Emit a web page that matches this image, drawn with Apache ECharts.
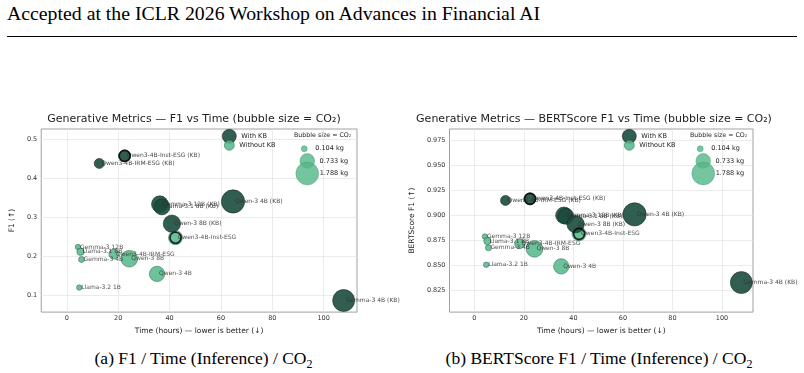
<!DOCTYPE html>
<html>
<head>
<meta charset="utf-8">
<script src="https://cdn.jsdelivr.net/npm/echarts@6/dist/echarts.min.js"></script>
<style>
  body { margin:0; width:804px; height:373px; background:#fff; position:relative; overflow:hidden; }
  #hdr { position:absolute; left:7px; top:3px; font-family:"Liberation Serif"; font-size:19.8px; line-height:20px; color:#000; white-space:nowrap; }
  #rule { position:absolute; left:7px; top:36px; width:790px; height:1px; background:#000; }
  .cap { position:absolute; top:349px; font-family:"Liberation Serif"; font-size:17.5px; line-height:18px; text-align:center; white-space:nowrap; color:#000; }
  .cap span { font-size:12px; position:relative; top:4px; }
  #chartA { position:absolute; left:0; top:100px; width:400px; height:240px; }
  #chartB { position:absolute; left:400px; top:100px; width:404px; height:240px; }
</style>
</head>
<body>
<div id="hdr">Accepted at the ICLR 2026 Workshop on Advances in Financial AI</div>
<div id="rule"></div>
<div id="chartA"></div>
<div id="chartB"></div>
<div class="cap" style="left:0;width:407px;">(a) F1 / Time (Inference) / CO<span>2</span></div>
<div class="cap" style="left:400px;width:398px;">(b) BERTScore F1 / Time (Inference) / CO<span>2</span></div>
<script>
    // runs without knowledge base
    const namesNoKB = ['Gemma-3 12B', 'Llama-3.1 8B', 'Gemma-3 4B', 'Qwen3-4B-IRM-ESG', 'Qwen-3 8B', 'Qwen-3 4B', 'Llama-3.2 1B', 'Qwen3-4B-Inst-ESG'];
    const timeNoKB  = [4.3, 5.3, 5.7, 18.3, 24.3, 35.1, 4.8, 42.3];
    const f1NoKB    = [0.223, 0.211, 0.191, 0.205, 0.193, 0.154, 0.119, 0.247];
    const bsNoKB    = [0.8786, 0.874, 0.8672, 0.8714, 0.8662, 0.8487, 0.8503, 0.8812];
    const co2NoKB   = [0.08, 0.17, 0.104, 0.33, 0.95, 0.8, 0.08, 0.66];

    // runs with knowledge base
    const namesKB = ['Qwen3-4B-Inst-ESG (KB)', 'Qwen3-4B-IRM-ESG (KB)', 'Gemma-3 12B (KB)', 'Llama-3.1 8B (KB)', 'Qwen-3 4B (KB)', 'Qwen-3 8B (KB)', 'Gemma-3 4B (KB)'];
    const timeKB  = [22.5, 12.6, 36.2, 37.0, 64.7, 40.9, 107.8];
    const f1KB    = [0.457, 0.4375, 0.333, 0.326, 0.340, 0.283, 0.0858];
    const bsKB    = [0.9162, 0.9146, 0.8997, 0.8987, 0.9007, 0.8909, 0.8325];
    const co2KB   = [0.48, 0.33, 0.95, 0.87, 1.87, 1.03, 1.67];

    const sizeKeys = [0.104, 0.733, 1.788];
    const xTicks = [0, 20, 40, 60, 80, 100];
    const f1Ticks = [0.1, 0.2, 0.3, 0.4, 0.5];
    const bsTicks = [0.825, 0.85, 0.875, 0.9, 0.925, 0.95, 0.975];

    const DARK = '#1b4d3e';
    const LIGHT = '#52b788';
    const FONT = 'DejaVu Sans';

    function bubble (co2) {
        return Math.sqrt(6.3 + 286 * co2);
    }

    function points (names, xs, ys, co2) {
        return names.map(function (n, i) { return { name: n, value: [xs[i], ys[i], co2[i]] }; });
    }

    const pointLabel = {
        show: true,
        formatter: '{b}',
        position: ['50%', '50%'],
        align: 'left',
        verticalAlign: 'middle',
        offset: [2, 0],
        fontSize: 6,
        color: '#333',
        fontFamily: FONT
    };

    function build (c) {
        const noKB = points(namesNoKB, timeNoKB, c.yNoKB, co2NoKB);
        const kb = points(namesKB, timeKB, c.yKB, co2KB);
        const rings = noKB.concat(kb).filter(function (d) { return d.name.indexOf('Inst-ESG') >= 0; });

        const legends = [
            { data: ['With KB'], left: c.lx - 7, top: 36 - 7, itemWidth: 14, itemHeight: 14,
              itemStyle: { borderWidth: 0.6, borderColor: '#12261e' } },
            { data: ['Without KB'], left: c.lx - 5, top: 45 - 5, itemWidth: 10, itemHeight: 10,
              itemStyle: { borderWidth: 0.6, borderColor: '#2d5e47' } }
        ];
        const sizeY = [48.3, 60.7, 73.3];
        sizeKeys.forEach(function (k, i) {
            const d = bubble(k);
            const w = Math.max(d, 12);
            legends.push({ data: [k + ' kg'], left: c.sx - w / 2, top: sizeY[i] - d / 2, itemWidth: w, itemHeight: d,
                itemStyle: { borderWidth: 0.5, borderColor: '#3e8f69' },
                textStyle: d > 20 ? { padding: [0, 0, 0, -4] } : {} });
        });
        legends.forEach(function (l) {
            l.icon = 'circle';
            l.padding = 0;
            l.orient = 'vertical';
            l.selectedMode = false;
            l.textStyle = Object.assign({ fontSize: 6.5, color: '#222', fontFamily: FONT }, l.textStyle || {});
        });

        const sizeSeries = sizeKeys.map(function (k) {
            return { type: 'scatter', name: k + ' kg', data: [], itemStyle: { color: LIGHT, borderColor: '#3e8f69', borderWidth: 0.5 } };
        });

        return {
            animation: false,
            textStyle: { fontFamily: FONT },
            grid: { left: c.grid[0], right: c.grid[1], top: c.grid[2], bottom: c.grid[3], show: true, borderColor: '#a0a0a0', borderWidth: 1 },
            graphic: [
                { type: 'text', x: c.tx, y: 19, style: { text: c.title, align: 'center', verticalAlign: 'middle', fontSize: 11, fontFamily: FONT, fill: '#222' } },
                { type: 'text', x: c.sx - 13, y: 35, style: { text: 'Bubble size = CO₂', align: 'left', verticalAlign: 'middle', fontSize: 6.3, fontFamily: FONT, fill: '#222' } }
            ],
            legend: legends,
            xAxis: {
                type: 'value', min: -10, max: c.xMax,
                name: 'Time (hours) — lower is better (↓)', nameLocation: 'middle', nameGap: 12.5,
                nameTextStyle: { fontSize: 7.5, color: '#222' },
                axisLine: { show: false },
                axisTick: { show: false, customValues: xTicks },
                axisLabel: { customValues: xTicks, fontSize: 6.5, color: '#333', margin: 3 },
                splitLine: { show: true, lineStyle: { color: '#e6e6e6', width: 0.8 } }
            },
            yAxis: {
                type: 'value', min: c.yMin, max: c.yMax,
                name: c.yName, nameLocation: 'middle', nameGap: c.nameGap,
                nameTextStyle: { fontSize: 7.5, color: '#222' },
                axisLine: { show: false },
                axisTick: { show: false, customValues: c.yTicks },
                axisLabel: { customValues: c.yTicks, fontSize: 6.5, color: '#333', margin: 4,
                    formatter: function (v) { return v.toFixed(c.digits); } },
                splitLine: { show: true, lineStyle: { color: '#e6e6e6', width: 0.8 } }
            },
            series: [
                { type: 'scatter', name: 'Without KB', data: noKB,
                  symbolSize: function (v) { return bubble(v[2]); },
                  itemStyle: { color: LIGHT, opacity: 0.85, borderColor: '#2d5e47', borderWidth: 0.6 },
                  label: pointLabel, z: 2 },
                { type: 'scatter', name: 'With KB', data: kb,
                  symbolSize: function (v) { return bubble(v[2]); },
                  itemStyle: { color: DARK, opacity: 0.9, borderColor: '#12261e', borderWidth: 0.6 },
                  label: pointLabel, z: 3 },
                { type: 'scatter', name: 'ring', data: rings, symbolSize: 11, silent: true,
                  itemStyle: { color: 'rgba(0,0,0,0)', borderColor: '#000', borderWidth: 1.6 }, z: 4 }
            ].concat(sizeSeries)
        };
    }

    const chartA = echarts.init(document.getElementById('chartA'));
    chartA.setOption(build({
        title: 'Generative Metrics — F1 vs Time (bubble size = CO₂)',
        tx: 194, lx: 229, sx: 307,
        grid: [31, 43, 29, 23],
        xMax: 113, yMin: 0.056, yMax: 0.526, yTicks: f1Ticks, digits: 1,
        yName: 'F1 (↑)', nameGap: 14.5,
        yNoKB: f1NoKB, yKB: f1KB
    }));

    const chartB = echarts.init(document.getElementById('chartB'));
    chartB.setOption(build({
        title: 'Generative Metrics — BERTScore F1 vs Time (bubble size = CO₂)',
        tx: 194, lx: 229, sx: 303,
        grid: [35, 51, 29, 23],
        xMax: 112.5, yMin: 0.803, yMax: 0.986, yTicks: bsTicks, digits: 3,
        yName: 'BERTScore F1 (↑)', nameGap: 29,
        yNoKB: bsNoKB, yKB: bsKB
    }));
</script>
</body>
</html>
